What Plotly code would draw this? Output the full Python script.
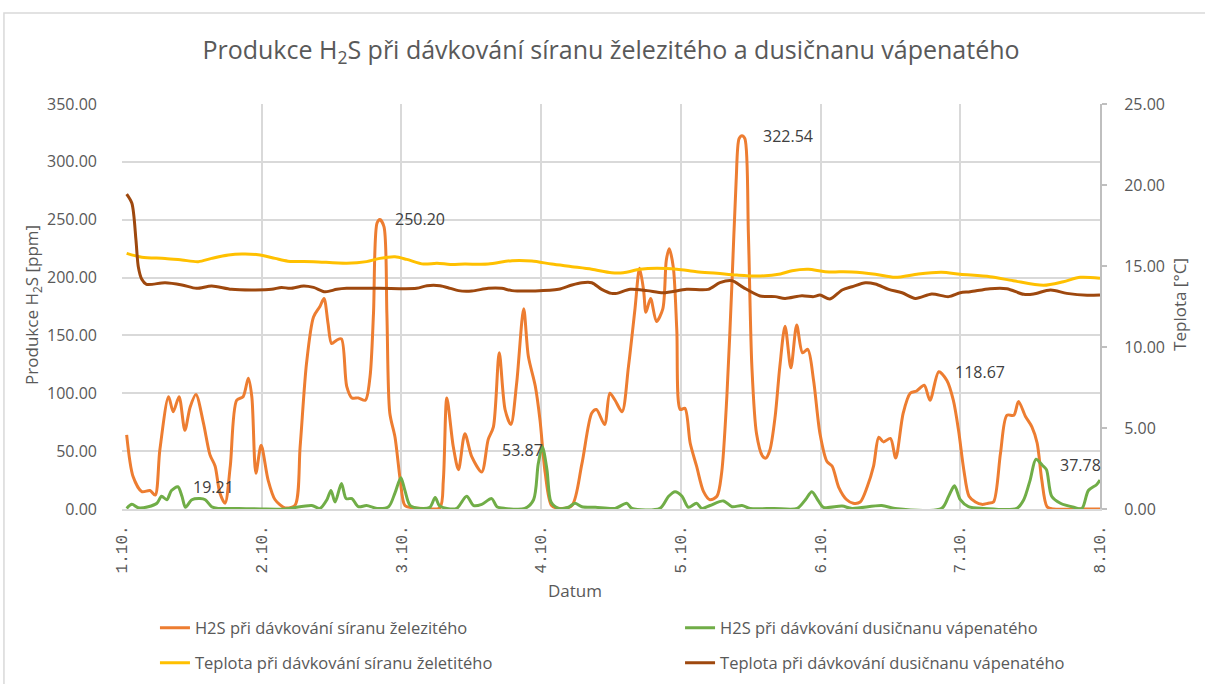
import plotly.graph_objects as go

# Time axis: hours since 1.10. 00:00 (7 days shown)
day_ticks = [0, 24, 48, 72, 96, 120, 144, 168]
day_labels = ["1.10.", "2.10.", "3.10.", "4.10.", "5.10.", "6.10.", "7.10.", "8.10."]

# H2S [ppm] při dávkování síranu železitého
h2s_fe_hours = [0.8, 1.9, 3.4, 4.8, 5.7, 6.5, 8.0, 8.8, 9.8, 10.8, 11.7, 12.7, 14.0, 15.1, 16.0,
                16.8, 17.7, 18.6, 19.7, 20.8, 21.7, 22.3, 23.0, 23.9, 25.1, 26.3, 28.0, 29.7, 30.6,
                31.7, 32.9, 34.0, 34.7, 35.4, 36.0, 36.9, 37.7, 38.6, 39.5, 40.6, 41.8, 42.6, 43.2,
                43.8, 44.3, 45.0, 45.5, 46.0, 46.9, 47.8, 48.6, 50.0, 51.8, 54.6, 55.2, 55.8, 56.9,
                57.8, 58.9, 60.1, 61.8, 62.9, 63.8, 64.8, 65.8, 66.8, 67.8, 69.0, 69.8, 71.0, 71.8,
                72.7, 73.8, 75.3, 77.3, 79.0, 80.7, 81.5, 82.9, 83.8, 84.7, 85.9, 87.0, 88.1, 88.9,
                89.6, 90.0, 90.8, 91.8, 92.9, 93.5, 94.0, 94.7, 95.3, 95.9, 96.7, 97.6, 98.7, 99.9,
                101.0, 102.2, 103.0, 103.9, 104.8, 105.5, 106.0, 106.5, 107.0, 107.6, 108.2, 109.0,
                110.0, 110.6, 111.3, 112.2, 113.0, 113.9, 114.9, 115.9, 116.9, 117.8, 118.8, 119.9,
                121.1, 122.0, 123.1, 124.5, 125.6, 126.8, 128.0, 129.1, 130.0, 130.8, 132.0, 132.9,
                134.2, 135.4, 136.5, 137.8, 138.8, 140.3, 141.7, 142.8, 143.7, 144.6, 145.5, 146.6,
                147.7, 148.8, 149.7, 150.9, 152.0, 153.2, 154.0, 155.2, 156.3, 157.2, 158.0, 158.9,
                160.0, 164.0, 168.0]
h2s_fe_ppm = [64, 28, 15, 16, 12, 51, 97, 84, 97, 68, 88, 99, 74, 47, 37,
              14, 5, 37, 94, 97, 113, 97, 31, 55, 25, 8, 1, 3, 54,
              126, 166, 175, 182, 160, 143, 146, 147, 106, 96, 96, 94, 114, 169,
              247, 250.20, 244, 169, 83, 62, 25, 3, 1, 0.5, 1, 25, 96, 54,
              34, 65, 45, 32, 60, 71, 135, 86, 73, 109, 173, 132, 106, 77,
              31, 3, 0.5, 3, 39, 83, 86, 73, 100, 94, 84, 123, 172, 208,
              189, 170, 182, 162, 173, 215, 225, 209, 155, 86, 87, 57, 37, 15,
              8, 11, 31, 97, 198, 284, 320, 322.54, 320, 238, 123, 65,
              46, 44, 51, 80, 123, 158, 122, 159, 135, 138, 111, 65,
              41, 37, 19, 8, 5, 6, 19, 37, 62, 58, 61, 44,
              83, 100, 102, 107, 94, 118.67, 111, 94, 68, 34, 11, 6,
              4, 5, 6, 48, 81, 81, 93, 80, 71, 57, 25, 2,
              0, 0, 0]

# H2S [ppm] při dávkování dusičnanu vápenatého
h2s_ca_hours = [0.8, 1.7, 2.8, 4.5, 6.0, 6.8, 7.7, 8.5, 9.6, 10.3, 10.9, 12.0, 13.4, 14.3, 15.4,
                16.5, 20.0, 24.0, 28.0, 32.6, 34.0, 35.2, 35.9, 36.6, 37.7, 38.5, 39.5, 40.6, 42.0,
                43.8, 45.8, 46.9, 47.9, 48.6, 49.5, 51.2, 52.9, 53.8, 54.5, 55.8, 57.5, 59.2, 60.4,
                61.8, 63.5, 64.4, 65.8, 69.2, 70.7, 71.5, 72.2, 73.0, 73.7, 75.0, 76.7, 77.8, 79.0,
                81.3, 84.7, 86.7, 87.6, 92.4, 93.9, 95.0, 96.2, 97.3, 98.7, 99.6, 101.0, 103.3, 104.8,
                106.5, 107.9, 112.0, 116.0, 117.4, 118.5, 119.5, 120.5, 123.7, 125.4, 130.5, 132.8,
                140.8, 142.0, 143.0, 144.0, 145.4, 148.0, 153.7, 154.9, 156.0, 157.0, 158.1, 158.8,
                159.7, 161.2, 163.5, 164.9, 166.0, 167.4, 168.0]
h2s_ca_ppm = [0.5, 4, 1, 2, 5, 11, 8, 16, 19.21, 11, 1.5, 8, 9, 8, 2,
              0.5, 0.5, 0, 0, 3, 0.5, 8, 16, 6, 22, 9, 9, 2, 3,
              0.5, 2, 14, 27, 16, 3, 0.5, 1.5, 10, 3, 0.5, 0.5, 11, 3,
              4, 9, 2, 0.5, 0.5, 8, 39, 53.87, 34, 6, 0.5, 1.5, 5, 2,
              1.5, 0.5, 5, 0.5, 0.5, 11, 15, 11, 1.5, 5, 0.5, 3, 7, 2,
              3, 0.5, 0.5, 0.5, 8, 15, 8, 1.5, 2.5, 0.5, 3, 0.5,
              0.5, 11, 20, 8, 2, 0.5, 0.5, 8, 25, 43, 37.78, 34,
              11, 5, 1.5, 0.5, 16, 21, 25]

# Teplota [°C] při dávkování síranu železitého
temp_fe_hours = [0.8, 3.4, 7.4, 10.3, 13.1, 15.4, 18.3, 20.6, 23.4, 26.3, 28.5, 32.9, 38.6, 42.0,
                 44.3, 46.9, 48.9, 51.8, 54.1, 56.4, 58.9, 62.9, 67.0, 70.4, 73.8, 77.3, 80.7, 84.1,
                 86.1, 89.0, 91.9, 95.3, 98.7, 102.2, 105.6, 109.1, 113.1, 115.1, 117.9, 120.8,
                 125.4, 129.4, 132.8, 136.8, 140.8, 144.0, 149.1, 153.1, 158.3, 161.7, 164.6, 168.0]
temp_fe_c = [15.78, 15.54, 15.47, 15.37, 15.27, 15.47, 15.68, 15.74, 15.70, 15.47, 15.30, 15.27,
             15.17, 15.27, 15.47, 15.57, 15.41, 15.12, 15.17, 15.10, 15.12, 15.12, 15.33, 15.31,
             15.12, 14.96, 14.80, 14.59, 14.59, 14.80, 14.86, 14.80, 14.65, 14.55, 14.44, 14.38,
             14.51, 14.71, 14.80, 14.65, 14.63, 14.49, 14.30, 14.51, 14.61, 14.49, 14.34, 14.09,
             13.81, 14.03, 14.30, 14.24]

# Teplota [°C] při dávkování dusičnanu vápenatého
temp_ca_hours = [0.8, 1.7, 2.4, 2.8, 3.4, 4.2, 7.4, 10.3, 12.8, 15.4, 18.8, 22.9, 25.7, 27.4, 28.9,
                 31.2, 32.9, 34.9, 36.9, 38.6, 44.3, 50.6, 52.4, 54.6, 56.4, 57.8, 60.1, 62.9, 65.2,
                 67.0, 71.0, 75.0, 77.3, 79.0, 80.7, 82.4, 84.1, 85.0, 87.3, 90.2, 93.0, 97.0, 100.7,
                 102.7, 104.8, 106.7, 109.6, 112.2, 113.9, 116.8, 118.8, 119.9, 121.6, 123.7, 125.4,
                 127.7, 129.4, 131.7, 134.0, 136.3, 139.1, 142.0, 144.0, 145.7, 149.1, 152.0, 154.9,
                 156.6, 159.5, 162.3, 165.8, 168.0]
temp_ca_c = [19.44, 18.87, 16.6, 14.96, 14.18, 13.87, 13.97, 13.83, 13.62, 13.77, 13.56, 13.52,
             13.56, 13.68, 13.62, 13.77, 13.68, 13.41, 13.56, 13.62, 13.62, 13.62, 13.78, 13.78,
             13.62, 13.48, 13.46, 13.62, 13.62, 13.48, 13.46, 13.56, 13.83, 13.97, 13.97, 13.56,
             13.31, 13.31, 13.56, 13.48, 13.35, 13.56, 13.56, 13.97, 14.09, 13.68, 13.15, 13.11,
             13.00, 13.17, 13.11, 13.21, 12.96, 13.52, 13.72, 13.97, 13.89, 13.56, 13.35, 13.00,
             13.27, 13.11, 13.35, 13.41, 13.60, 13.60, 13.25, 13.27, 13.52, 13.31, 13.19, 13.21]

ORANGE = "#ED7D31"
GREEN = "#70AD47"
YELLOW = "#FFC000"
BROWN = "#9E480E"
TXT = "#595959"
GRID = "#D9D9D9"
FONT = "Open Sans"

fig = go.Figure()

fig.add_trace(go.Scatter(x=temp_fe_hours, y=temp_fe_c, yaxis="y2", mode="lines",
                         line=dict(color=YELLOW, width=3, shape="spline", smoothing=0.8),
                         name="Teplota při dávkování síranu želetitého", legend="legend3"))
fig.add_trace(go.Scatter(x=temp_ca_hours, y=temp_ca_c, yaxis="y2", mode="lines",
                         line=dict(color=BROWN, width=3, shape="spline", smoothing=0.8),
                         name="Teplota při dávkování dusičnanu vápenatého", legend="legend4"))
fig.add_trace(go.Scatter(x=h2s_fe_hours, y=h2s_fe_ppm, mode="lines",
                         line=dict(color=ORANGE, width=3, shape="spline", smoothing=0.8),
                         name="H2S při dávkování síranu železitého", legend="legend"))
fig.add_trace(go.Scatter(x=h2s_ca_hours, y=h2s_ca_ppm, mode="lines",
                         line=dict(color=GREEN, width=3, shape="spline", smoothing=0.8),
                         name="H2S při dávkování dusičnanu vápenatého", legend="legend2"))

# value labels at selected peaks: (hour, value, anchor, xshift, yshift)
peak_labels = [
    (9.6, 19.21, "left", 13, 0),
    (44.3, 250.20, "left", 13, 0),
    (72.2, 53.87, "right", 3, -3),
    (106.5, 322.54, "left", 19, 0),
    (140.3, 118.67, "left", 14, 0),
    (158.1, 37.78, "left", 16, 0),
]
for hx, val, anchor, dx, dy in peak_labels:
    fig.add_annotation(x=hx, y=val, xref="x", yref="y", text=f"{val:.2f}", showarrow=False,
                       xanchor=anchor, yanchor="middle", xshift=dx, yshift=dy,
                       font=dict(family=FONT, size=16, color="#404040"))

# axis titles
fig.add_annotation(x=0.463, y=-0.2, xref="paper", yref="paper", text="Datum", showarrow=False,
                   xanchor="center", yanchor="middle", font=dict(family=FONT, size=17, color=TXT))
fig.add_annotation(x=-0.091, y=0.504, xref="paper", yref="paper",
                   text="Produkce H<sub>2</sub>S [ppm]", showarrow=False, textangle=-90,
                   xanchor="center", yanchor="middle", font=dict(family=FONT, size=17, color=TXT))
fig.add_annotation(x=1.0818, y=0.504, xref="paper", yref="paper", text="Teplota [°C]",
                   showarrow=False, textangle=-90, xanchor="center", yanchor="middle",
                   font=dict(family=FONT, size=17, color=TXT))

# outer chart frame
fig.add_shape(type="rect", xref="paper", yref="paper", x0=-0.1207, x1=1.13, y0=-0.46, y1=1.2247,
              line=dict(color=GRID, width=1.5), fillcolor="rgba(0,0,0,0)", layer="below")

legend_font = dict(family=FONT, size=16.5, color=TXT)
legend_common = dict(orientation="h", xanchor="left", yanchor="middle",
                     font=legend_font, bgcolor="rgba(0,0,0,0)")

fig.update_layout(
    width=1205, height=684,
    margin=dict(l=122, r=105, t=104, b=175, autoexpand=False),
    paper_bgcolor="white", plot_bgcolor="white",
    title=dict(text="Produkce H<sub>2</sub>S při dávkování síranu železitého a dusičnanu vápenatého",
               x=0.5, xref="paper", xanchor="center", y=0.927, yref="container", yanchor="middle",
               font=dict(family=FONT, size=25, color=TXT)),
    xaxis=dict(range=[0, 168], tickmode="array", tickvals=day_ticks, ticktext=day_labels,
               tickangle=-90, showgrid=True, gridcolor=GRID, gridwidth=2, zeroline=False,
               showline=True, linecolor=GRID, linewidth=2, ticks="", ticklabelstandoff=8,
               tickfont=dict(family="Liberation Mono", size=16, color=TXT), automargin=False),
    yaxis=dict(range=[0, 350], dtick=50, tickformat=".2f", showgrid=True, gridcolor=GRID,
               gridwidth=2, zeroline=False, showline=False, ticks="", ticklabelstandoff=24,
               tickfont=dict(family=FONT, size=16, color=TXT), automargin=False),
    yaxis2=dict(range=[0, 25], dtick=5, tickformat=".2f", overlaying="y", side="right",
                showgrid=False, zeroline=False, showline=True, linecolor="#BFBFBF", linewidth=2,
                ticks="outside", ticklen=5, tickcolor="#BFBFBF", tickwidth=2, ticklabelstandoff=14,
                tickfont=dict(family=FONT, size=16, color=TXT), automargin=False),
    legend=dict(x=0.0337, y=-0.2938, **legend_common),
    legend2=dict(x=0.5706, y=-0.2938, **legend_common),
    legend3=dict(x=0.0337, y=-0.3802, **legend_common),
    legend4=dict(x=0.5706, y=-0.3802, **legend_common),
    showlegend=True,
)

fig.write_html("out.html")
